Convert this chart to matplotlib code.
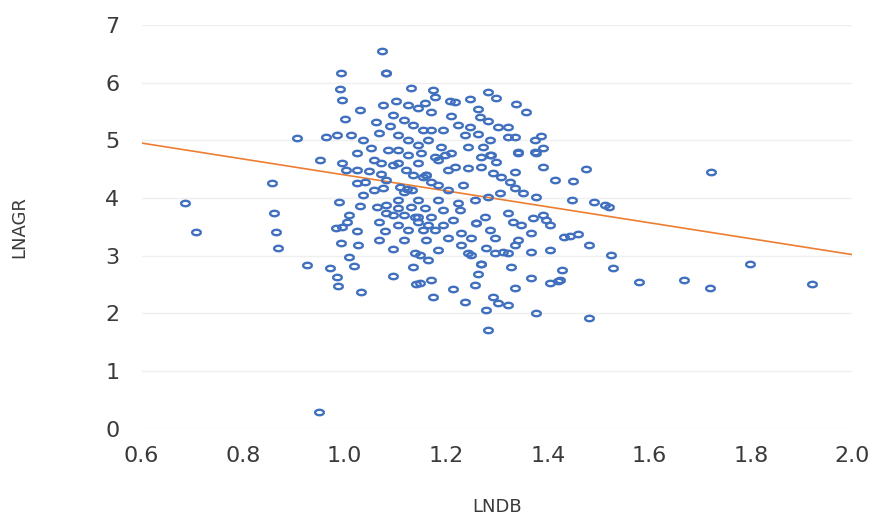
import numpy as np
import matplotlib
matplotlib.use("Agg")
import matplotlib.pyplot as plt
from matplotlib.path import Path

# LNDB (x) and LNAGR (y) values
lndb = [
    0.686, 0.708, 0.857, 0.861, 0.865, 0.869, 0.906, 0.925, 0.949, 0.951,
    0.971, 1.073, 1.082, 1.082, 1.722, 1.720, 1.798, 1.920, 1.669, 1.580,
    1.482, 1.282, 1.475, 1.449, 1.447, 1.492, 1.512, 1.520, 1.443, 1.459,
    1.482, 1.525, 1.529, 1.429, 1.424, 0.992, 0.990, 0.994, 1.131, 1.031,
    1.076, 1.102, 1.125, 1.145, 1.000, 1.061, 1.090, 1.067, 0.963, 0.984,
    1.012, 1.037, 1.051, 1.024, 1.175, 1.178, 1.208, 1.218, 1.247, 1.282,
    1.298, 1.337, 1.357, 1.263, 1.210, 1.267, 1.282, 1.302, 1.322, 1.224,
    1.247, 1.237, 1.263, 1.286, 1.322, 1.335, 1.386, 1.375, 1.341, 1.375,
    1.390, 1.159, 1.171, 1.155, 1.171, 1.190, 1.210, 1.243, 1.273, 1.288,
    0.994, 1.002, 1.024, 1.047, 1.071, 1.071, 1.082, 1.106, 1.120, 1.145,
    1.155, 1.024, 1.041, 1.057, 1.076, 1.110, 1.122, 1.133, 1.116, 0.988,
    1.031, 1.063, 1.082, 1.082, 1.106, 1.131, 1.139, 1.008, 1.004, 0.994,
    0.982, 1.024, 1.067, 1.080, 1.106, 1.125, 1.145, 1.155, 0.992, 1.096,
    1.008, 1.139, 1.151, 1.178, 1.198, 1.269, 1.286, 1.298, 1.341, 1.376,
    1.218, 1.243, 1.269, 1.292, 1.308, 1.335, 1.390, 1.414, 1.161, 1.161,
    1.171, 1.325, 1.335, 1.351, 1.376, 1.306, 1.282, 1.257, 1.184, 1.224,
    1.227, 1.159, 1.145, 1.171, 1.194, 1.214, 1.259, 1.259, 1.276, 1.286,
    1.322, 1.331, 1.347, 1.371, 1.390, 1.396, 1.404, 1.367, 1.433, 1.178,
    1.161, 1.204, 1.229, 1.249, 1.229, 1.296, 1.341, 1.335, 1.278, 1.312,
    1.367, 1.404, 1.243, 1.018, 0.984, 0.986, 1.033, 1.096, 1.135, 1.141,
    1.149, 1.249, 1.269, 1.269, 1.296, 1.322, 1.165, 1.263, 1.327, 1.149,
    1.171, 1.214, 1.257, 1.335, 1.367, 1.404, 1.420, 1.175, 1.237, 1.292,
    1.302, 1.322, 1.278, 1.376, 1.096, 1.116, 1.135, 1.106, 1.125, 1.145,
    1.165, 1.194, 1.086, 1.106, 1.125, 1.184, 1.204, 1.096, 1.135, 1.184,
    1.204, 1.233, 1.106, 1.145, 1.194, 1.057, 1.037, 1.096, 1.116, 1.165,
    1.067, 1.116, 1.184, 1.027,
]
lnagr = [
    3.92, 3.41, 4.26, 3.74, 3.41, 3.14, 5.04, 2.84, 0.29, 4.66,
    2.79, 6.55, 6.17, 6.17, 4.45, 2.44, 2.86, 2.51, 2.58, 2.55,
    1.92, 1.72, 4.51, 4.30, 3.97, 3.93, 3.88, 3.85, 3.34, 3.38,
    3.19, 3.02, 2.79, 2.76, 2.58, 6.17, 5.89, 5.70, 5.91, 5.53,
    5.62, 5.68, 5.62, 5.56, 5.37, 5.32, 5.25, 5.13, 5.06, 5.10,
    5.10, 5.01, 4.87, 4.78, 5.88, 5.75, 5.68, 5.67, 5.72, 5.84,
    5.74, 5.63, 5.49, 5.55, 5.42, 5.41, 5.34, 5.23, 5.23, 5.27,
    5.23, 5.10, 5.11, 5.01, 5.06, 5.06, 5.08, 5.01, 4.80, 4.80,
    4.87, 5.65, 5.49, 5.18, 5.18, 4.89, 4.78, 4.89, 4.89, 4.75,
    4.61, 4.49, 4.49, 4.47, 4.61, 4.42, 4.32, 4.61, 4.49, 4.61,
    4.37, 4.26, 4.28, 4.14, 4.18, 4.19, 4.16, 4.14, 4.11, 3.93,
    3.86, 3.85, 3.88, 3.74, 3.83, 3.85, 3.67, 3.71, 3.59, 3.50,
    3.48, 3.43, 3.59, 3.43, 3.54, 3.45, 3.59, 3.45, 3.22, 3.12,
    2.98, 3.05, 4.78, 4.71, 4.75, 4.71, 4.75, 4.63, 4.78, 4.78,
    4.54, 4.52, 4.54, 4.44, 4.37, 4.45, 4.54, 4.32, 4.40, 4.40,
    4.28, 4.28, 4.18, 4.09, 4.02, 4.09, 4.02, 3.97, 3.97, 3.92,
    3.80, 3.83, 3.67, 3.67, 3.54, 3.62, 3.57, 3.57, 3.67, 3.45,
    3.74, 3.59, 3.54, 3.66, 3.71, 3.62, 3.54, 3.40, 3.33, 3.45,
    3.28, 3.31, 3.40, 3.31, 3.19, 3.31, 3.28, 3.19, 3.14, 3.07,
    3.07, 3.10, 3.05, 2.82, 2.63, 2.48, 2.37, 2.65, 2.81, 2.51,
    3.02, 3.02, 2.86, 2.86, 3.05, 3.05, 2.93, 2.69, 2.81, 2.53,
    2.58, 2.43, 2.50, 2.44, 2.62, 2.53, 2.56, 2.29, 2.20, 2.29,
    2.18, 2.15, 2.06, 2.01, 5.44, 5.36, 5.27, 5.10, 5.01, 4.92,
    5.01, 5.18, 4.84, 4.84, 4.75, 4.66, 4.49, 4.58, 4.40, 4.23,
    4.14, 4.23, 3.97, 3.97, 3.80, 4.66, 4.06, 3.71, 3.71, 3.54,
    3.28, 3.28, 3.10, 3.19,
]

# linear trendline as shown on the chart
trend_slope = -1.38
trend_intercept = 5.78

x_ticks = [0.6, 0.8, 1.0, 1.2, 1.4, 1.6, 1.8, 2.0]
y_ticks = [0, 1, 2, 3, 4, 5, 6, 7]

# the source picture is stretched sideways, so use a flattened ring marker
t = np.linspace(0, 2 * np.pi, 40)
ring = Path(np.column_stack([np.cos(t), 0.62 * np.sin(t)]))

fig = plt.figure(figsize=(8.85, 5.18), dpi=100)
ax = fig.add_axes([0.160, 0.172, 0.803, 0.780])

ax.plot(lndb, lnagr, linestyle="none", marker=ring, markersize=6.3,
        markerfacecolor="none", markeredgecolor="#4070BE",
        markeredgewidth=1.7, zorder=3)

tx = np.array([0.6, 2.0])
ax.plot(tx, trend_slope * tx + trend_intercept, color="#ED7D31",
        linewidth=1.2, zorder=2)

ax.set_xlim(0.6, 2.0)
ax.set_ylim(0, 7)
ax.set_xticks(x_ticks)
ax.set_xticklabels([f"{v:.1f}" for v in x_ticks])
ax.set_yticks(y_ticks)
ax.tick_params(length=0, labelsize=16, labelcolor="#3a3a3a")
ax.tick_params(axis="x", pad=12)
ax.tick_params(axis="y", pad=16)
ax.yaxis.grid(True, color="#efefef", linewidth=1.0)
ax.set_axisbelow(True)
for s in ax.spines.values():
    s.set_visible(False)

ax.set_xlabel("LNDB", fontsize=13, color="#3a3a3a")
ax.set_ylabel("LNAGR", fontsize=13, color="#3a3a3a")
ax.xaxis.set_label_coords(0.5, -0.172)
ax.yaxis.set_label_coords(-0.160, 0.5)

fig.savefig("out.png", dpi=100)
